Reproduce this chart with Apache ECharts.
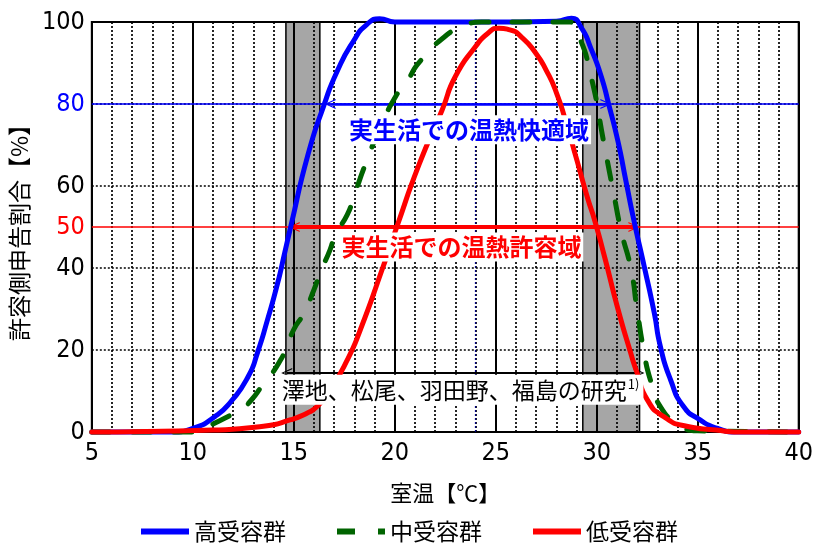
<!DOCTYPE html>
<html>
<head>
<meta charset="utf-8">
<script src="https://cdn.jsdelivr.net/npm/echarts@6/dist/echarts.min.js"></script>
<style>
  html, body { margin: 0; padding: 0; background: #fff; }
  #chart { width: 816px; height: 546px; }
</style>
</head>
<body>
<div id="chart"></div>
<script>
// 高受容群 (high tolerance group): room temperature [°C] vs. share of "acceptable" votes [%]
const highTemp = [5, 9, 10, 11.1, 11.9, 12.75, 13.2, 13.7, 14.2, 14.55, 14.85, 15.7, 16.5, 17.15, 17.95, 18.6, 19.25, 20, 24, 28, 28.75, 29.25, 29.7, 30.2, 30.6, 31.05, 31.45, 31.85, 32.35, 32.85, 33.15, 33.65, 34.3, 35.1, 35.9, 37, 40];
const highPct  = [0, 0, 0.9, 3.8, 7.5, 13.6, 19.3, 27.4, 36.3, 43.7, 50.1, 67.6, 79.8, 88, 95.3, 99.3, 100.8, 100, 100, 100.2, 100.9, 98.5, 93.7, 87.1, 79.8, 70.9, 61.1, 51.4, 40.4, 29, 20.9, 12.8, 6.2, 3, 1, 0, 0];

// 中受容群 (middle tolerance group)
const midTemp = [5, 10, 10.5, 11.1, 11.75, 12.4, 12.9, 13.4, 14.35, 15, 15.5, 16, 16.3, 16.8, 17.05, 17.65, 17.95, 18.6, 19.35, 20.1, 20.6, 21.25, 22.7, 23.5, 24.3, 28.6, 29.05, 29.7, 30.4, 30.85, 31.2, 31.7, 32, 32.35, 32.65, 33.15, 34, 35, 40];
const midPct  = [0, 0, 0.6, 2.2, 3.8, 5.5, 7.8, 11.1, 17.6, 25, 29, 34.7, 38.8, 44.5, 48.1, 53, 57.1, 66, 75, 82.3, 85.5, 90.4, 97.3, 99.3, 100, 100, 97.3, 87.1, 69.3, 57.9, 49.3, 39.6, 29.8, 19.3, 12.8, 6.2, 2.2, 0.3, 0];

// 低受容群 (low tolerance group)
const lowTemp = [5, 11, 13.5, 14.85, 15.65, 16.15, 16.8, 17.65, 18.3, 19.4, 20.1, 21.2, 22.35, 23, 24, 24.6, 25.15, 25.7, 26.3, 26.95, 27.5, 28, 28.5, 29, 29.55, 29.9, 30.4, 31.05, 31.65, 32, 32.5, 33.3, 34.45, 35.9, 37, 40];
const lowPct  = [0, 0.5, 1.4, 3, 4.6, 6.2, 10.3, 17.6, 25, 40, 50, 65.2, 78.6, 86.7, 94, 97.2, 98.5, 98.1, 96.2, 92.6, 88.2, 82.8, 75.2, 66.6, 57, 51.6, 42.5, 30, 19.8, 14.4, 7.9, 3.8, 1.4, 0.5, 0, 0];

// Reference levels [%]
const comfortLevel = 80;   // 実生活での温熱快適域
const acceptLevel = 50;    // 実生活での温熱許容域

// Ranges drawn as arrows: [from °C, to °C]
const comfortRange = [16.8, 30.45];
const acceptRange = [15.02, 31.84];
const studyRange = [14.65, 32.09];
const studyLevel = 14.4;

// Shaded temperature bands [from °C, to °C]
const shadedBands = [[14.61, 16.29], [29.31, 32.12]];

// Highlighted 1 °C grid line
const markedTemp = 24;

// Axis ticks
const xTicks = { min: 5, max: 40, step: 5, minorSplit: 5 };
const yTicks = { min: 0, max: 100, step: 20 };

const JP = '"Noto Sans CJK JP", "Noto Sans", sans-serif';
const NUM = '"Liberation Sans Narrow", "DejaVu Sans Condensed", "Liberation Sans", sans-serif';
const chevron = 'path://M5,0L10,10L8.8,10L5,2.2L1.2,10L0,10Z';

const pairs = (xs, ys) => xs.map((x, i) => [x, ys[i]]);

const chart = echarts.init(document.getElementById('chart'), null, { renderer: 'canvas' });

const dotted = { color: '#000', width: 1.7, type: [2, 2] };

const option = {
  animation: false,
  backgroundColor: '#fff',
  grid: {
    left: 89, top: 22, width: 714, height: 410,
    show: true, borderColor: '#000', borderWidth: 2, backgroundColor: 'transparent'
  },
  xAxis: {
    type: 'value', min: xTicks.min, max: xTicks.max, interval: xTicks.step,
    name: '室温【℃】', nameLocation: 'middle', nameGap: 50,
    nameTextStyle: { fontFamily: JP, fontSize: 22, color: '#000' },
    axisLine: { lineStyle: { color: '#000', width: 2 } },
    axisTick: { show: false },
    axisLabel: { fontFamily: NUM, fontSize: 25, color: '#000', margin: 9 },
    splitLine: { show: true, lineStyle: { color: '#000', width: 2 } },
    minorTick: { show: false, splitNumber: xTicks.minorSplit },
    minorSplitLine: { show: true, lineStyle: dotted }
  },
  yAxis: {
    type: 'value', min: yTicks.min, max: yTicks.max, interval: yTicks.step,
    name: '許容側申告割合【%】', nameLocation: 'middle', nameRotate: 90, nameGap: 51,
    nameTextStyle: { fontFamily: JP, fontSize: 23, color: '#000' },
    axisLine: { show: true, lineStyle: { color: '#000', width: 2 } },
    axisTick: { show: false },
    axisLabel: {
      margin: 7,
      formatter: v => (v === comfortLevel ? '{b|' + v + '}' : '{k|' + v + '}'),
      rich: {
        k: { fontFamily: NUM, fontSize: 25, color: '#000' },
        b: { fontFamily: NUM, fontSize: 25, color: '#0000ff' }
      }
    },
    splitLine: { show: true, lineStyle: dotted }
  },
  legend: {
    top: 515, left: 'center',
    itemWidth: 48, itemHeight: 14, itemGap: 48,
    itemStyle: { opacity: 0 },
    lineStyle: { width: 6, cap: 'butt' },
    textStyle: { fontFamily: JP, fontSize: 23, color: '#000' },
    data: ['高受容群', '中受容群', '低受容群']
  },
  series: [
    {
      // shaded bands, drawn beneath the grid lines
      name: 'bands', type: 'line', data: [], z: -1, silent: true,
      markArea: {
        silent: true, z: -1,
        itemStyle: { color: '#a6a6a6', borderColor: '#000', borderWidth: 1.5 },
        data: shadedBands.map(b => [{ xAxis: b[0] }, { xAxis: b[1] }])
      }
    },
    {
      // reference lines at 80 % and 50 %, highlighted grid line
      name: 'refs', type: 'line', data: [], z: 3, silent: true,
      markLine: {
        silent: true, symbol: 'none', animation: false,
        label: { show: false },
        data: [
          { yAxis: comfortLevel, lineStyle: { color: '#0000ff', width: 1.5, type: 'solid' } },
          {
            yAxis: acceptLevel, lineStyle: { color: '#ff0000', width: 1.5, type: 'solid' },
            label: { show: true, position: 'start', distance: 7, formatter: String(acceptLevel), color: '#ff0000', fontFamily: NUM, fontSize: 25 }
          },
          { xAxis: markedTemp, lineStyle: { color: '#000080', width: 1.2, type: [2, 2] } }
        ]
      }
    },
    {
      // range arrows
      name: 'arrows', type: 'line', data: [], z: 4, silent: true,
      markLine: {
        silent: true, symbol: [chevron, chevron], symbolSize: [10, 11], animation: false,
        label: { show: false },
        data: [
          [{ coord: [comfortRange[0], comfortLevel], lineStyle: { color: '#0000ff', width: 2.5, type: 'solid' } }, { coord: [comfortRange[1], comfortLevel] }],
          [{ coord: [acceptRange[0], acceptLevel], lineStyle: { color: '#ff0000', width: 4, type: 'solid' } }, { coord: [acceptRange[1], acceptLevel] }],
          [{ coord: [studyRange[0], studyLevel], lineStyle: { color: '#000', width: 2, type: 'solid' } }, { coord: [studyRange[1], studyLevel] }]
        ]
      }
    },
    {
      name: '高受容群', type: 'line', data: pairs(highTemp, highPct),
      smooth: 0.6, symbol: 'none', clip: false, z: 5,
      lineStyle: { color: '#0000ff', width: 5, cap: 'round', join: 'round' },
      itemStyle: { color: '#0000ff' }
    },
    {
      name: '中受容群', type: 'line', data: pairs(midTemp, midPct),
      smooth: 0.6, symbol: 'none', clip: false, z: 6,
      lineStyle: { color: '#006400', width: 5, type: [18, 23], cap: 'round', join: 'round' },
      itemStyle: { color: '#006400' }
    },
    {
      name: '低受容群', type: 'line', data: pairs(lowTemp, lowPct),
      smooth: 0.6, symbol: 'none', clip: false, z: 7,
      lineStyle: { color: '#ff0000', width: 5, cap: 'round', join: 'round' },
      itemStyle: { color: '#ff0000' }
    },
    {
      // region captions
      name: 'captions', type: 'line', data: [], z: 10, silent: true,
      markPoint: {
        silent: true, symbol: 'circle', symbolSize: 1, z: 10,
        itemStyle: { color: 'rgba(0,0,0,0)' },
        data: [
          {
            coord: [23.68, 73.7],
            label: { show: true, position: 'inside', formatter: '実生活での温熱快適域', color: '#0000ff', fontWeight: 'bold', fontFamily: JP, fontSize: 24, backgroundColor: '#fff', padding: [3, 2, 2, 2] }
          },
          {
            coord: [23.31, 45.1],
            label: { show: true, position: 'inside', formatter: '実生活での温熱許容域', color: '#ff0000', fontWeight: 'bold', fontFamily: JP, fontSize: 24, backgroundColor: '#fff', padding: [3, 2, 2, 2] }
          },
          {
            coord: [23.26, 10.3],
            label: {
              show: true, position: 'inside', formatter: '{t|澤地、松尾、羽田野、福島の研究}{s|1)}',
              backgroundColor: '#fff', padding: [2, 4, 2, 4],
              rich: {
                t: { fontFamily: JP, fontSize: 23, color: '#000', lineHeight: 26 },
                s: { fontFamily: JP, fontSize: 13, color: '#000', padding: [0, 0, 12, 1] }
              }
            }
          }
        ]
      }
    }
  ]
};

chart.setOption(option);
</script>
</body>
</html>
